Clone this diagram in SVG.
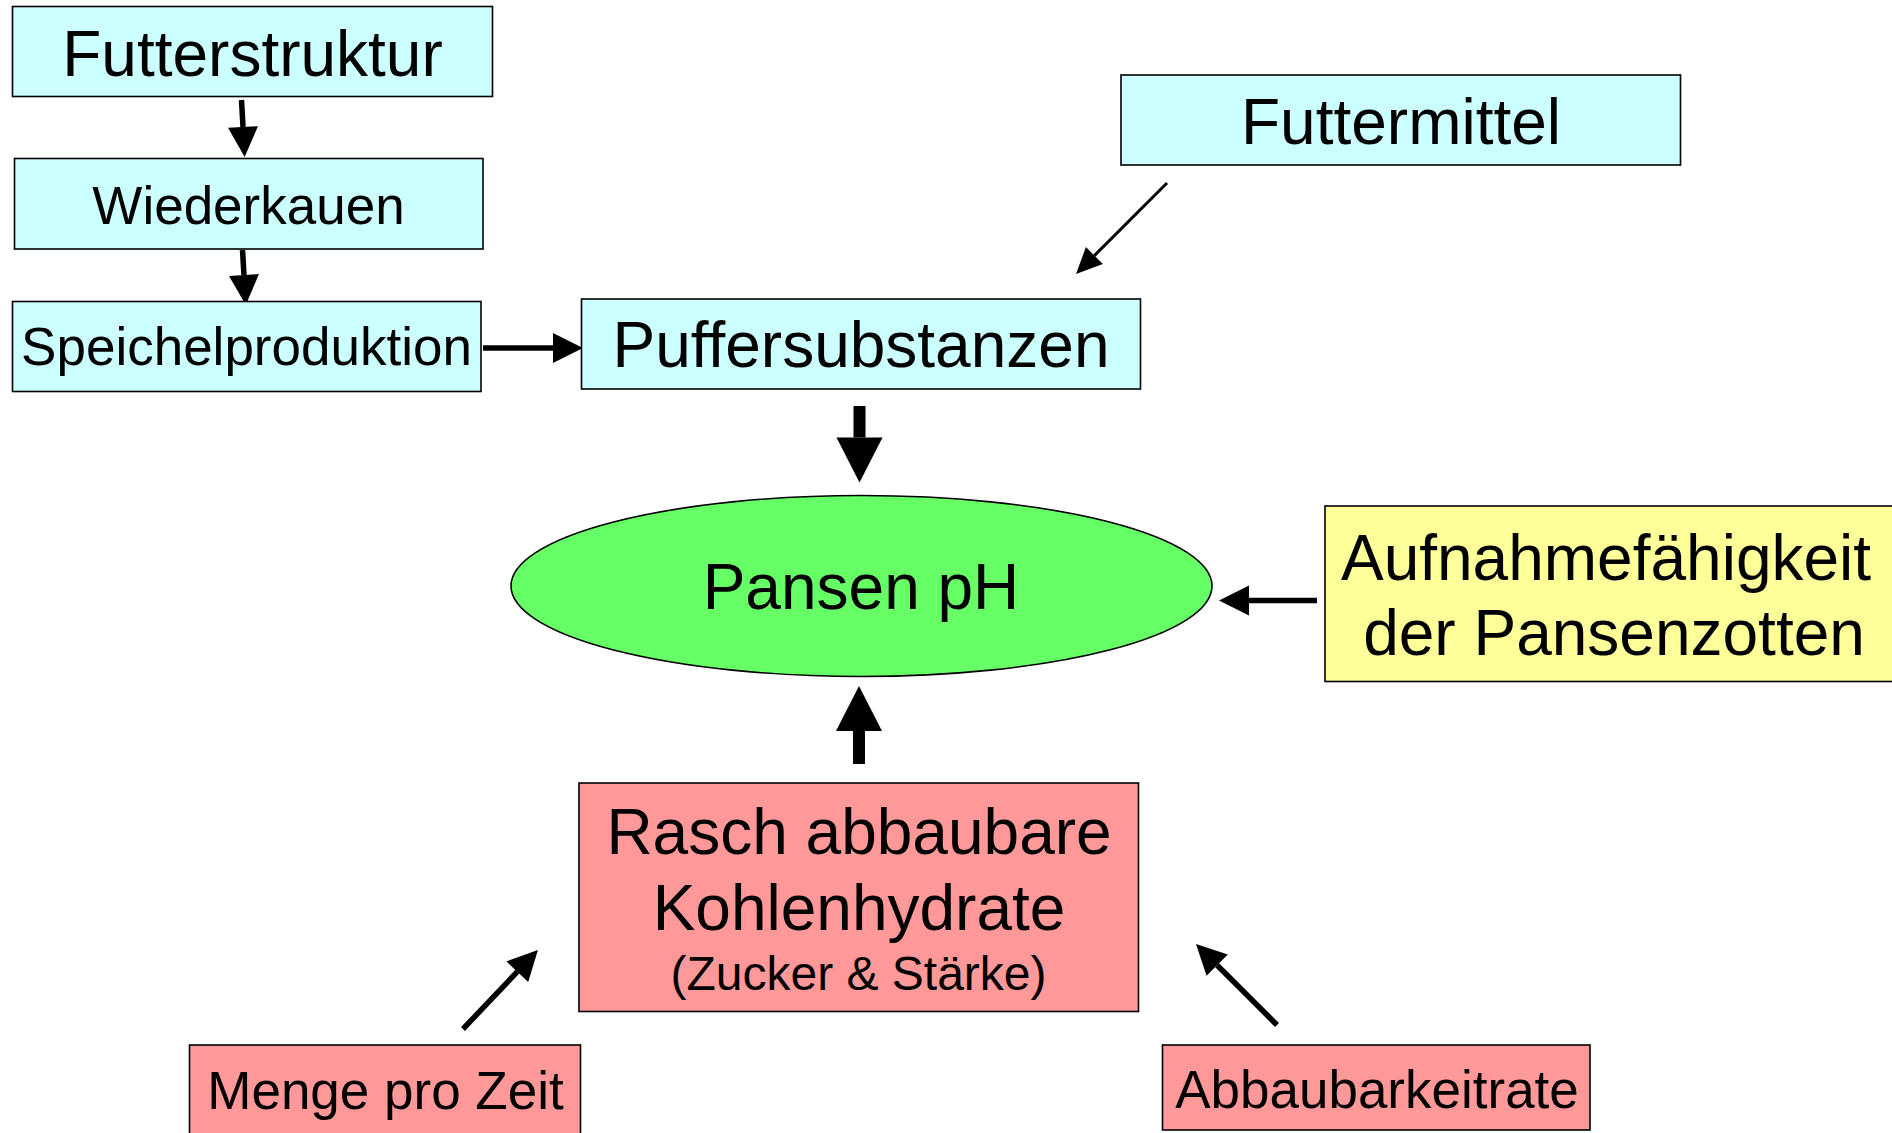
<svg xmlns="http://www.w3.org/2000/svg" width="1892" height="1133" viewBox="0 0 1892 1133">
<style>
  .box { stroke: #000; stroke-width: 1.6; }
  .cyan { fill: #CCFFFF; }
  .green { fill: #66FF66; }
  .yellow { fill: #FFFF99; }
  .pink { fill: #FF9999; }
  text { font-family: "Liberation Sans", Arial, sans-serif; fill: #000; text-anchor: middle; }
  .f64 { font-size: 64px; }
  .f53 { font-size: 53px; }
  .f48 { font-size: 48px; }
  .c { stroke: #000; fill: none; stroke-linecap: butt; }
  .w3 { stroke-width: 3; }
  .w5 { stroke-width: 5.5; }
  .w12 { stroke-width: 12; }
</style>
<defs>
  <marker id="ah" markerUnits="userSpaceOnUse" markerWidth="30" markerHeight="30" refX="0" refY="15" orient="auto" overflow="visible">
    <path d="M0,0 L30,15 L0,30 z" fill="#000"/>
  </marker>
  <marker id="ahThin" markerUnits="userSpaceOnUse" markerWidth="26" markerHeight="24" refX="0" refY="12" orient="auto" overflow="visible">
    <path d="M0,0 L26,12 L0,24 z" fill="#000"/>
  </marker>
  <marker id="ahThick" markerUnits="userSpaceOnUse" markerWidth="45" markerHeight="46" refX="0" refY="23" orient="auto" overflow="visible">
    <path d="M0,0 L45,23 L0,46 z" fill="#000"/>
  </marker>
</defs>
<rect width="1892" height="1133" fill="#FFFFFF"/>

<g id="connectors">
  <line class="c w5" x1="241.5" y1="100" x2="243" y2="127" marker-end="url(#ah)"/>
  <line class="c w5" x1="242.5" y1="250" x2="244" y2="275" marker-end="url(#ah)"/>
  <line class="c w5" x1="483" y1="348" x2="553" y2="348" marker-end="url(#ah)"/>
  <line class="c w3" x1="1167" y1="183" x2="1094.4" y2="255.6" marker-end="url(#ahThin)"/>
  <line class="c w12" x1="859.5" y1="406" x2="859.5" y2="437.5" marker-end="url(#ahThick)"/>
  <line class="c w12" x1="859" y1="764" x2="859" y2="731" marker-end="url(#ahThick)"/>
  <line class="c w5" x1="1317" y1="600.5" x2="1249" y2="600.5" marker-end="url(#ah)"/>
  <line class="c w5" x1="463" y1="1029" x2="517.3" y2="971.7" marker-end="url(#ah)"/>
  <line class="c w5" x1="1277" y1="1025" x2="1217.2" y2="965.2" marker-end="url(#ah)"/>
</g>

<g id="futterstruktur">
  <rect class="box cyan" x="12.5" y="6.5" width="480" height="90"/>
  <text class="f64" x="252.5" y="76">Futterstruktur</text>
</g>
<g id="wiederkauen">
  <rect class="box cyan" x="14.5" y="158.5" width="468.5" height="90.5"/>
  <text class="f53" x="248.5" y="224">Wiederkauen</text>
</g>
<g id="speichelproduktion">
  <rect class="box cyan" x="12.5" y="301.5" width="468.5" height="90"/>
  <text class="f53" x="246.5" y="365">Speichelproduktion</text>
</g>
<g id="puffersubstanzen">
  <rect class="box cyan" x="581.5" y="299" width="559" height="90"/>
  <text class="f64" x="861" y="367">Puffersubstanzen</text>
</g>
<g id="futtermittel">
  <rect class="box cyan" x="1121" y="75" width="559.5" height="90"/>
  <text class="f64" x="1401" y="144">Futtermittel</text>
</g>
<g id="pansen-ph">
  <ellipse class="box green" cx="861.5" cy="586" rx="350.5" ry="90.5"/>
  <text class="f64" x="861" y="609">Pansen pH</text>
</g>
<g id="aufnahmefaehigkeit">
  <rect class="box yellow" x="1325" y="506" width="580" height="175.5"/>
  <text class="f64" x="1606" y="580">Aufnahmefähigkeit</text>
  <text class="f64" x="1614" y="655">der Pansenzotten</text>
</g>
<g id="kohlenhydrate">
  <rect class="box pink" x="579" y="783" width="559.5" height="228.5"/>
  <text class="f64" x="859" y="854">Rasch abbaubare</text>
  <text class="f64" x="859" y="930">Kohlenhydrate</text>
  <text class="f48" x="858.5" y="990">(Zucker &amp; Stärke)</text>
</g>
<g id="menge">
  <rect class="box pink" x="189.5" y="1045" width="391" height="100"/>
  <text class="f53" x="385.5" y="1109">Menge pro Zeit</text>
</g>
<g id="abbaubarkeitrate">
  <rect class="box pink" x="1162.5" y="1045" width="427.5" height="85"/>
  <text class="f53" x="1377" y="1108">Abbaubarkeitrate</text>
</g>
</svg>
